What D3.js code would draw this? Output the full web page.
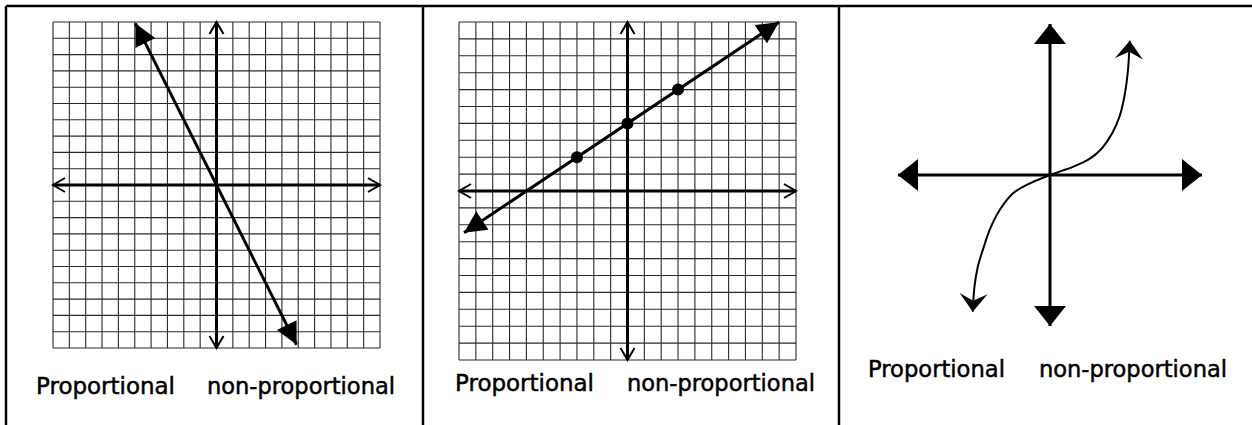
<!DOCTYPE html>
<meta charset="utf-8">
<title>Proportional or non-proportional</title>
<style>
body { margin: 0; background: #fff; }
.grid line { stroke: #2a2a2a; stroke-width: 1.1; }
.axis { stroke: #000; stroke-width: 3; fill: none; }
.label { font-family: "Comic Sans MS", "DejaVu Sans", sans-serif; font-size: 23px; fill: #000; stroke: #000; stroke-width: 0.5; }
</style>
<script src="https://d3js.org/d3.v7.min.js"></script>
<body>
<script>
// grid values (graph paper runs -10..10 on both axes)
var gridTicks = [-10, -9, -8, -7, -6, -5, -4, -3, -2, -1, 0, 1, 2, 3, 4, 5, 6, 7, 8, 9, 10];
var labels = ["Proportional", "non-proportional"];

// graph 1: y = -2x through the origin
var line1 = [{x: -4.96, y: 9.92}, {x: 4.9, y: -9.8}];
// graph 2: y = 2/3 x + 4
var line2 = [{x: -9.7, y: -2.47}, {x: 9, y: 10}];
var points2 = [{x: -3, y: 2}, {x: 0, y: 4}, {x: 3, y: 6}];
// graph 3: curve
var curveX = [-5.08, -4.97, -4.75, -4.42, -3.97, -3.31, -2.43, -1.54, 0, 1.54, 2.65, 3.42, 4.09, 4.57, 4.85, 5.03, 5.15, 5.25];
var curveY = [-9.05, -7.4, -6.07, -4.97, -3.64, -2.32, -1.21, -0.66, 0, 0.55, 1.1, 1.77, 2.76, 3.86, 4.97, 6.07, 7.17, 8.89];

var width = 1252, height = 425;

var svg = d3.select("body").append("svg")
    .attr("width", width)
    .attr("height", height);

var defs = svg.append("defs");
function marker(id, d, fill, w) {
  defs.append("marker")
      .attr("id", id)
      .attr("markerUnits", "userSpaceOnUse")
      .attr("viewBox", "-30 -20 40 40")
      .attr("markerWidth", 40)
      .attr("markerHeight", 40)
      .attr("refX", 0)
      .attr("refY", 0)
      .attr("orient", "auto-start-reverse")
    .append("path")
      .attr("d", d)
      .attr("fill", fill)
      .attr("stroke", fill == "none" ? "#000" : "none")
      .attr("stroke-width", w);
}
marker("chev", "M-12,-7L0,0L-12,7", "none", 2);
marker("tri", "M-22,-11L0,0L-22,11Z", "#000", 0);
marker("big", "M-20,-16L0,0L-20,16Z", "#000", 0);
marker("dart", "M0,0L-18,-14L-11,0L-18,14Z", "#000", 0);

// panel frame lines
svg.append("g").selectAll("line")
    .data([[6, 6, 1252, 6], [6, 6, 6, 425], [423, 6, 423, 425], [839, 6, 839, 425]])
  .enter().append("line")
    .attr("x1", function(d) { return d[0]; })
    .attr("y1", function(d) { return d[1]; })
    .attr("x2", function(d) { return d[2]; })
    .attr("y2", function(d) { return d[3]; })
    .attr("stroke", "#000")
    .attr("stroke-width", 2.5);

function gridPanel(xr, yr) {
  var x = d3.scaleLinear().domain([-10, 10]).range(xr);
  var y = d3.scaleLinear().domain([-10, 10]).range(yr);
  var g = svg.append("g").attr("class", "grid");
  g.selectAll(".v").data(gridTicks).enter().append("line")
      .attr("x1", x).attr("x2", x)
      .attr("y1", y(-10)).attr("y2", y(10));
  g.selectAll(".h").data(gridTicks).enter().append("line")
      .attr("y1", y).attr("y2", y)
      .attr("x1", x(-10)).attr("x2", x(10));
  var a = svg.append("g");
  a.append("path").attr("class", "axis")
      .attr("d", "M" + x(-10) + "," + y(0) + "L" + x(10) + "," + y(0))
      .attr("marker-start", "url(#chev)").attr("marker-end", "url(#chev)");
  a.append("path").attr("class", "axis")
      .attr("d", "M" + x(0) + "," + y(-10) + "L" + x(0) + "," + y(10))
      .attr("marker-start", "url(#chev)").attr("marker-end", "url(#chev)");
  return {x: x, y: y};
}

// graph 1
var p1 = gridPanel([53, 380], [348, 22]);
svg.append("path")
    .datum(line1)
    .attr("class", "axis")
    .attr("d", d3.line().x(function(d) { return p1.x(d.x); }).y(function(d) { return p1.y(d.y); }))
    .attr("marker-start", "url(#tri)").attr("marker-end", "url(#tri)");

// graph 2
var p2 = gridPanel([459, 796], [360, 22]);
svg.append("path")
    .datum(line2)
    .attr("class", "axis")
    .attr("d", d3.line().x(function(d) { return p2.x(d.x); }).y(function(d) { return p2.y(d.y); }))
    .attr("marker-start", "url(#tri)").attr("marker-end", "url(#tri)");
svg.append("g").selectAll("circle")
    .data(points2)
  .enter().append("circle")
    .attr("cx", function(d) { return p2.x(d.x); })
    .attr("cy", function(d) { return p2.y(d.y); })
    .attr("r", 6)
    .attr("fill", "#000");

// graph 3
var x3 = d3.scaleLinear().domain([-10, 10]).range([898, 1202]);
var y3 = d3.scaleLinear().domain([-10, 10]).range([326, 24]);
svg.append("path").attr("class", "axis")
    .attr("d", "M" + x3(-10) + "," + y3(0) + "L" + x3(10) + "," + y3(0))
    .attr("marker-start", "url(#big)").attr("marker-end", "url(#big)");
svg.append("path").attr("class", "axis")
    .attr("d", "M" + x3(0) + "," + y3(-10) + "L" + x3(0) + "," + y3(10))
    .attr("marker-start", "url(#big)").attr("marker-end", "url(#big)");
svg.append("path")
    .datum(d3.range(curveX.length))
    .attr("fill", "none")
    .attr("stroke", "#000")
    .attr("stroke-width", 2)
    .attr("d", d3.line().curve(d3.curveCatmullRom)
        .x(function(i) { return x3(curveX[i]); })
        .y(function(i) { return y3(curveY[i]); }))
    .attr("marker-start", "url(#dart)").attr("marker-end", "url(#dart)");

// answer choices under each graph
var labelPos = [
  [36, 394, 139], [207, 394, 188],
  [455, 391, 139], [627, 391, 188],
  [868, 377, 137], [1039, 377, 188]
];
svg.append("g").selectAll("text")
    .data(labelPos)
  .enter().append("text")
    .attr("class", "label")
    .attr("x", function(d) { return d[0]; })
    .attr("y", function(d) { return d[1]; })
    .attr("textLength", function(d) { return d[2]; })
    .attr("lengthAdjust", "spacingAndGlyphs")
    .text(function(d, i) { return labels[i % 2]; });
</script>
